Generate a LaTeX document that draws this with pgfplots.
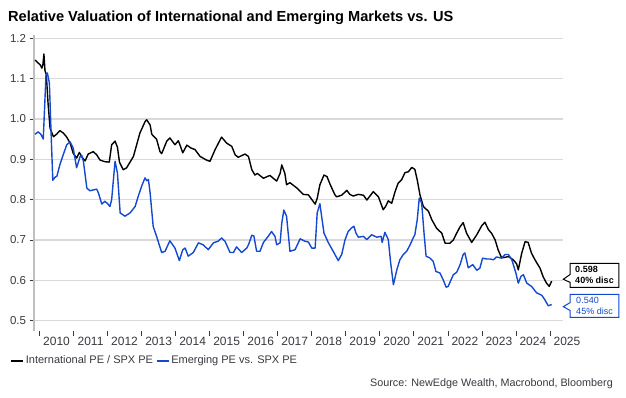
\documentclass[border=0pt]{standalone}
\usepackage{pgfplots}
\pgfplotsset{compat=1.18}
\usepackage{fontspec}
\setmainfont{Liberation Sans}
\usetikzlibrary{shapes.callouts}
\definecolor{emblue}{RGB}{20,72,208}
\definecolor{gridgray}{RGB}{217,217,217}
\definecolor{axgray}{RGB}{191,191,191}
\definecolor{txtgray}{RGB}{56,56,64}

\pgfplotstableread{
t v
2009.87 1.146
2009.93 1.141
2010.02 1.134
2010.07 1.126
2010.10 1.135
2010.13 1.161
2010.16 1.120
2010.20 1.110
2010.25 1.040
2010.31 0.977
2010.41 0.956
2010.50 0.962
2010.60 0.971
2010.70 0.965
2010.80 0.955
2010.90 0.940
2010.99 0.915
2011.09 0.903
2011.17 0.917
2011.25 0.905
2011.34 0.896
2011.43 0.913
2011.58 0.919
2011.68 0.911
2011.78 0.898
2011.92 0.894
2012.05 0.893
2012.12 0.936
2012.22 0.945
2012.29 0.930
2012.35 0.893
2012.46 0.874
2012.56 0.879
2012.76 0.907
2012.95 0.965
2013.10 0.993
2013.15 0.998
2013.25 0.985
2013.30 0.962
2013.40 0.953
2013.44 0.950
2013.54 0.919
2013.59 0.914
2013.74 0.945
2013.83 0.953
2013.98 0.936
2014.08 0.946
2014.13 0.935
2014.21 0.916
2014.33 0.935
2014.45 0.928
2014.57 0.924
2014.72 0.907
2014.91 0.898
2015.01 0.895
2015.16 0.924
2015.35 0.955
2015.50 0.940
2015.65 0.932
2015.75 0.911
2015.84 0.905
2015.94 0.909
2016.04 0.913
2016.14 0.907
2016.24 0.874
2016.33 0.861
2016.40 0.865
2016.58 0.853
2016.77 0.860
2016.87 0.853
2016.97 0.846
2017.07 0.865
2017.12 0.886
2017.21 0.865
2017.26 0.837
2017.36 0.842
2017.56 0.829
2017.75 0.813
2017.90 0.812
2018.10 0.789
2018.16 0.803
2018.24 0.837
2018.36 0.861
2018.45 0.857
2018.54 0.838
2018.68 0.812
2018.73 0.807
2018.88 0.811
2019.03 0.823
2019.12 0.813
2019.22 0.809
2019.37 0.813
2019.52 0.811
2019.62 0.799
2019.81 0.820
2019.96 0.807
2020.10 0.775
2020.17 0.783
2020.25 0.797
2020.35 0.791
2020.45 0.820
2020.54 0.841
2020.64 0.849
2020.74 0.867
2020.84 0.869
2020.94 0.880
2021.03 0.875
2021.10 0.849
2021.18 0.812
2021.28 0.783
2021.43 0.771
2021.53 0.750
2021.67 0.729
2021.82 0.717
2021.92 0.692
2022.06 0.692
2022.16 0.700
2022.26 0.717
2022.36 0.733
2022.45 0.743
2022.55 0.717
2022.70 0.694
2022.85 0.713
2023.00 0.736
2023.09 0.744
2023.19 0.726
2023.29 0.716
2023.39 0.700
2023.48 0.675
2023.58 0.656
2023.68 0.657
2023.78 0.659
2023.92 0.651
2024.02 0.641
2024.07 0.626
2024.17 0.667
2024.27 0.696
2024.36 0.694
2024.46 0.667
2024.56 0.651
2024.71 0.630
2024.80 0.609
2024.90 0.593
2024.98 0.585
2025.05 0.598
}\intl

\pgfplotstableread{
t v
2009.87 0.962
2009.96 0.968
2010.04 0.962
2010.11 0.950
2010.19 1.108
2010.23 1.114
2010.29 1.089
2010.33 0.990
2010.39 0.848
2010.46 0.856
2010.51 0.858
2010.60 0.887
2010.70 0.912
2010.80 0.936
2010.90 0.943
2010.99 0.928
2011.09 0.879
2011.19 0.906
2011.24 0.910
2011.29 0.895
2011.39 0.829
2011.48 0.822
2011.68 0.826
2011.73 0.817
2011.83 0.789
2011.92 0.796
2012.00 0.790
2012.07 0.783
2012.12 0.800
2012.22 0.895
2012.29 0.866
2012.37 0.767
2012.51 0.759
2012.66 0.767
2012.81 0.783
2012.90 0.808
2013.00 0.833
2013.10 0.854
2013.15 0.847
2013.20 0.850
2013.25 0.817
2013.34 0.734
2013.44 0.709
2013.59 0.669
2013.69 0.672
2013.83 0.698
2013.98 0.680
2014.11 0.649
2014.21 0.676
2014.28 0.680
2014.37 0.660
2014.52 0.669
2014.67 0.693
2014.81 0.688
2014.96 0.676
2015.11 0.693
2015.25 0.697
2015.35 0.705
2015.45 0.697
2015.60 0.669
2015.70 0.669
2015.79 0.683
2015.94 0.669
2016.09 0.680
2016.15 0.690
2016.24 0.712
2016.30 0.710
2016.38 0.672
2016.48 0.672
2016.58 0.694
2016.72 0.709
2016.82 0.721
2016.92 0.709
2016.97 0.688
2017.07 0.693
2017.12 0.742
2017.18 0.774
2017.26 0.759
2017.36 0.672
2017.51 0.676
2017.66 0.703
2017.80 0.697
2017.90 0.695
2018.00 0.680
2018.10 0.680
2018.16 0.767
2018.24 0.790
2018.29 0.759
2018.36 0.717
2018.49 0.693
2018.63 0.672
2018.78 0.649
2018.88 0.664
2018.98 0.701
2019.07 0.721
2019.17 0.730
2019.24 0.734
2019.30 0.717
2019.37 0.707
2019.52 0.709
2019.62 0.701
2019.76 0.713
2019.91 0.707
2020.04 0.709
2020.07 0.694
2020.15 0.719
2020.25 0.701
2020.32 0.643
2020.40 0.589
2020.50 0.626
2020.59 0.651
2020.69 0.664
2020.79 0.672
2020.89 0.688
2020.98 0.705
2021.03 0.713
2021.10 0.750
2021.16 0.804
2021.23 0.792
2021.30 0.717
2021.36 0.660
2021.48 0.655
2021.57 0.647
2021.65 0.622
2021.77 0.618
2021.87 0.600
2021.95 0.583
2022.01 0.585
2022.16 0.614
2022.26 0.620
2022.36 0.639
2022.45 0.664
2022.50 0.668
2022.60 0.631
2022.73 0.639
2022.85 0.625
2022.94 0.630
2023.02 0.655
2023.14 0.653
2023.24 0.653
2023.34 0.651
2023.43 0.658
2023.58 0.655
2023.68 0.664
2023.78 0.664
2023.88 0.651
2024.00 0.618
2024.07 0.593
2024.15 0.610
2024.22 0.614
2024.32 0.593
2024.46 0.585
2024.61 0.569
2024.76 0.563
2024.85 0.552
2024.95 0.537
2025.05 0.540
}\emer

\begin{document}
\begin{tikzpicture}
\useasboundingbox (0,0) rectangle (626bp,398bp);
\node[anchor=base west, font=\bfseries\fontsize{14.6bp}{16bp}\selectfont, inner sep=0] at (8bp,376bp) {Relative Valuation of International and Emerging Markets vs. US};
\begin{axis}[
  at={(34bp,67bp)}, anchor=south west,
  scale only axis, width=529bp, height=296bp,
  xmin=2009.838, xmax=2025.384, ymin=0.4745, ymax=1.208,
  axis x line*=bottom, axis y line*=left,
  x axis line style={draw=none},
  y axis line style={draw=axgray, line width=1.2bp},
  tick align=outside,
  major tick length=4.5bp,
  tick style={draw=txtgray, line width=0.7bp},
  xtick={2010,2011,2012,2013,2014,2015,2016,2017,2018,2019,2020,2021,2022,2023,2024,2025},
  xticklabels={2010,2011,2012,2013,2014,2015,2016,2017,2018,2019,2020,2021,2022,2023,2024,2025},
  xticklabel style={xshift=17bp, yshift=2bp, font=\fontsize{12bp}{14bp}\selectfont, text=txtgray},
  ytick={0.5,0.6,0.7,0.8,0.9,1.0,1.1,1.2},
  yticklabels={0.5,0.6,0.7,0.8,0.9,1.0,1.1,1.2},
  yticklabel style={font=\fontsize{11.5bp}{14bp}\selectfont, text=txtgray},
  ymajorgrids,
  major grid style={draw=gridgray, line width=1.2bp},
  clip=false,
  legend style={at={(rel axis cs:-0.0454,-0.100)}, anchor=west, draw=none, fill=none,
    inner sep=0pt, font=\fontsize{11bp}{13bp}\selectfont, text=txtgray,
    nodes={inner sep=1.5bp},
    /tikz/every even column/.append style={column sep=1bp}},
  legend columns=2,
  legend cell align=left,
  legend image code/.code={\draw[#1, line width=2.2bp] (0bp,0bp) -- (12bp,0bp);},
]
\addplot[black, line width=1.4bp, line join=round] table[x=t,y=v] {\intl};
\addlegendentry{International PE / SPX PE}
\addplot[emblue, line width=1.4bp, line join=round] table[x=t,y=v] {\emer};
\addlegendentry{Emerging PE vs. SPX PE}
\end{axis}
\node[rectangle callout, draw=black, line width=1bp, fill=white, minimum width=48.6bp, minimum height=24bp, inner sep=2bp,
  callout absolute pointer={(563.3bp,118.7bp)}, callout pointer width=8bp, align=left,
  font=\bfseries\fontsize{9bp}{11bp}\selectfont] at (594.5bp,122.7bp) {0.598\\40\% disc};
\node[rectangle callout, draw=emblue, line width=1bp, fill=white, minimum width=48.6bp, minimum height=23bp, inner sep=2bp,
  callout absolute pointer={(563.3bp,91.3bp)}, callout pointer width=8bp, align=left, text=emblue,
  font=\fontsize{9bp}{11bp}\selectfont] at (594.5bp,92bp) {0.540\\45\% disc};
\node[anchor=east, inner sep=0, font=\fontsize{10.8bp}{13bp}\selectfont, text=txtgray] at (613bp,14bp) {Source: NewEdge Wealth, Macrobond, Bloomberg};
\end{tikzpicture}
\end{document}
